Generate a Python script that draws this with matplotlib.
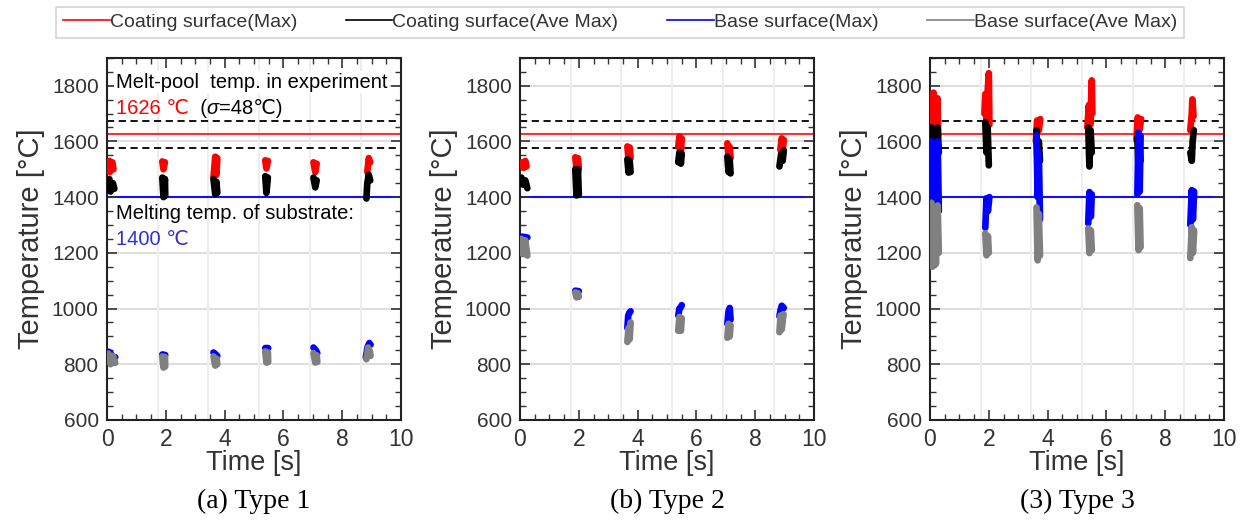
import numpy as np
import matplotlib.pyplot as plt
from matplotlib.lines import Line2D
from matplotlib.ticker import MultipleLocator

nan = np.nan

# ---- data: time [s] / temperature [C], NaN separates the six scan passes ----
# (a) Type 1
p1_coat_max_t = [0.08, 0.10, 0.18, 0.22, nan, 1.88, 1.92, 1.97, nan, 3.62, 3.68, 3.72, 3.75, nan,
                 5.38, 5.42, 5.47, nan, 7.02, 7.08, 7.13, nan, 8.85, 8.90, 8.95]
p1_coat_max_T = [1530, 1490, 1525, 1500, nan, 1528, 1500, 1525, nan, 1470, 1545, 1480, 1540, nan,
                 1532, 1503, 1530, nan, 1525, 1490, 1520, nan, 1490, 1540, 1525]
p1_coat_ave_t = [0.08, 0.12, 0.20, 0.25, nan, 1.88, 1.92, 1.97, 1.98, nan, 3.62, 3.68, 3.72, 3.75, nan,
                 5.38, 5.42, 5.47, nan, 7.02, 7.08, 7.13, nan, 8.82, 8.85, 8.90, 8.95]
p1_coat_ave_T = [1465, 1420, 1450, 1430, nan, 1470, 1400, 1465, 1405, nan, 1465, 1410, 1455, 1415, nan,
                 1475, 1415, 1470, nan, 1470, 1435, 1460, nan, 1395, 1450, 1480, 1460]
p1_base_max_t = [0.05, 0.12, 0.18, 0.28, nan, 1.88, 1.98, nan, 3.62, 3.70, 3.75, nan,
                 5.38, 5.48, nan, 7.02, 7.10, 7.15, nan, 8.80, 8.86, 8.92, 8.96]
p1_base_max_T = [845, 840, 826, 825, nan, 835, 833, nan, 842, 835, 830, nan,
                 858, 858, nan, 860, 850, 840, nan, 825, 862, 876, 870]
p1_base_ave_t = [0.05, 0.12, 0.20, 0.28, nan, 1.88, 1.92, 1.97, 1.98, nan, 3.62, 3.68, 3.73, 3.75, nan,
                 5.38, 5.42, 5.47, 5.48, nan, 7.02, 7.08, 7.13, 7.15, nan, 8.82, 8.88, 8.94, 8.96]
p1_base_ave_T = [838, 800, 830, 805, nan, 828, 788, 826, 792, nan, 828, 795, 820, 800, nan,
                 846, 806, 842, 808, nan, 840, 806, 832, 808, nan, 818, 860, 845, 830]

# (b) Type 2
p2_coat_max_t = [0.08, 0.12, 0.18, 0.22, nan, 1.88, 1.92, 1.97, 2.00, nan, 3.65, 3.69, 3.73, 3.76, nan,
                 5.38, 5.42, 5.47, 5.50, nan, 7.05, 7.09, 7.13, 7.16, nan, 8.85, 8.90, 8.94, 8.97]
p2_coat_max_T = [1525, 1505, 1530, 1510, nan, 1543, 1500, 1540, 1502, nan, 1582, 1536, 1578, 1540, nan,
                 1580, 1618, 1565, 1610, nan, 1593, 1545, 1580, 1540, nan, 1570, 1611, 1580, 1605]
p2_coat_ave_t = [0.05, 0.10, 0.18, 0.25, nan, 1.88, 1.92, 1.97, 2.00, nan, 3.65, 3.69, 3.73, 3.76, nan,
                 5.38, 5.42, 5.47, 5.50, nan, 7.05, 7.09, 7.13, 7.16, nan, 8.82, 8.88, 8.93, 8.97]
p2_coat_ave_T = [1470, 1445, 1460, 1432, nan, 1500, 1406, 1500, 1408, nan, 1536, 1488, 1530, 1490, nan,
                 1525, 1561, 1520, 1555, nan, 1545, 1490, 1535, 1485, nan, 1510, 1555, 1530, 1568]
p2_base_max_t = [0.05, 0.25, nan, 1.88, 2.00, nan, 3.65, 3.68, 3.72, 3.76, nan,
                 5.38, 5.42, 5.47, 5.50, nan, 7.05, 7.09, 7.13, 7.16, nan, 8.82, 8.86, 8.90, 8.97]
p2_base_max_T = [1258, 1255, nan, 1064, 1062, nan, 930, 975, 985, 990, nan,
                 975, 1000, 1005, 1012, nan, 945, 990, 1002, 960, nan, 972, 995, 1010, 1002]
p2_base_ave_t = [0.05, 0.10, 0.18, 0.25, nan, 1.88, 1.92, 1.97, 2.00, nan, 3.65, 3.69, 3.73, 3.76, nan,
                 5.38, 5.42, 5.47, 5.50, nan, 7.05, 7.09, 7.13, 7.16, nan, 8.82, 8.86, 8.90, 8.96]
p2_base_ave_T = [1250, 1195, 1245, 1190, nan, 1058, 1040, 1055, 1042, nan, 880, 930, 890, 950, nan,
                 920, 970, 920, 965, nan, 895, 945, 900, 940, nan, 915, 975, 925, 980]

# (3) Type 3
p3_coat_max_t = [0.05, 0.07, 0.12, 0.16, 0.25, 0.28, nan, 1.85, 1.88, 1.92, 1.96, 2.00, 2.02, nan,
                 3.60, 3.64, 3.70, 3.75, nan, 5.35, 5.40, 5.45, 5.50, 5.52, nan,
                 7.02, 7.06, 7.12, 7.18, nan, 8.85, 8.90, 8.92, 8.96]
p3_coat_max_T = [1745, 1620, 1775, 1600, 1755, 1620, nan, 1700, 1770, 1668, 1780, 1845, 1660, nan,
                 1600, 1675, 1640, 1680, nan, 1650, 1730, 1660, 1819, 1700, nan,
                 1604, 1686, 1640, 1680, nan, 1640, 1700, 1751, 1690]
p3_coat_ave_t = [0.05, 0.08, 0.14, 0.20, 0.26, 0.30, nan, 1.88, 1.92, 1.96, 2.00, nan,
                 3.62, 3.66, 3.70, 3.74, nan, 5.38, 5.42, 5.46, 5.50, nan,
                 7.05, 7.09, 7.13, 7.16, nan, 8.85, 8.90, 8.93, 8.97]
p3_coat_ave_T = [1650, 1540, 1630, 1520, 1650, 1560, nan, 1668, 1560, 1650, 1514, nan,
                 1640, 1503, 1600, 1530, nan, 1650, 1510, 1640, 1560, nan,
                 1614, 1500, 1590, 1530, nan, 1560, 1530, 1600, 1640]
p3_base_max_t = [0.05, 0.08, 0.14, 0.20, 0.26, 0.30, nan, 1.88, 1.92, 1.97, 2.02, nan,
                 3.62, 3.66, 3.70, 3.74, nan, 5.38, 5.42, 5.47, 5.50, nan,
                 7.05, 7.09, 7.13, 7.16, nan, 8.85, 8.90, 8.94, 8.98]
p3_base_max_T = [1600, 1390, 1560, 1380, 1600, 1350, nan, 1290, 1396, 1350, 1400, nan,
                 1622, 1400, 1560, 1320, nan, 1306, 1418, 1330, 1410, nan,
                 1410, 1632, 1420, 1620, nan, 1301, 1425, 1320, 1420]
p3_base_ave_t = [0.05, 0.08, 0.14, 0.20, 0.26, 0.30, nan, 1.88, 1.92, 1.97, 2.00, nan,
                 3.62, 3.66, 3.70, 3.74, nan, 5.38, 5.42, 5.47, 5.50, nan,
                 7.05, 7.09, 7.13, 7.16, nan, 8.85, 8.90, 8.94, 8.98]
p3_base_ave_T = [1380, 1150, 1360, 1160, 1370, 1200, nan, 1270, 1191, 1260, 1200, nan,
                 1363, 1173, 1340, 1190, nan, 1288, 1199, 1280, 1210, nan,
                 1371, 1210, 1360, 1220, nan, 1181, 1292, 1200, 1280]

melt_pool_T = 1626
melt_pool_sigma = 48
substrate_melt_T = 1400
pass_starts = [1.72, 3.45, 5.17, 6.9, 8.62]

captions = ["(a) Type 1", "(b) Type 2", "(3) Type 3"]
series_labels = ["Coating surface(Max)", "Coating surface(Ave Max)",
                 "Base surface(Max)", "Base surface(Ave Max)"]
series_colors = ["#ff0000", "black", "#0000ff", "#808080"]

panels = [
    [(p1_coat_max_t, p1_coat_max_T), (p1_coat_ave_t, p1_coat_ave_T),
     (p1_base_max_t, p1_base_max_T), (p1_base_ave_t, p1_base_ave_T)],
    [(p2_coat_max_t, p2_coat_max_T), (p2_coat_ave_t, p2_coat_ave_T),
     (p2_base_max_t, p2_base_max_T), (p2_base_ave_t, p2_base_ave_T)],
    [(p3_coat_max_t, p3_coat_max_T), (p3_coat_ave_t, p3_coat_ave_T),
     (p3_base_max_t, p3_base_max_T), (p3_base_ave_t, p3_base_ave_T)],
]

plt.rcParams['font.family'] = ['Liberation Sans', 'DejaVu Sans']

fig = plt.figure(figsize=(12.41, 5.21), dpi=100)
lefts = [107 / 1241, 520 / 1241, 930 / 1241]

for i, series in enumerate(panels):
    ax = fig.add_axes([lefts[i], 0.194, 0.237, 0.695])

    # light grid
    for y in [800, 1000, 1200, 1600, 1800]:
        ax.axhline(y, color='#d8d8d8', lw=1.2, zorder=0)
    for x in pass_starts:
        ax.axvline(x, color='#eeeeee', lw=1.5, zorder=0)

    # reference levels
    ax.axhline(melt_pool_T + melt_pool_sigma, color='black', lw=1.3, ls=(0, (4, 2.5)), zorder=1)
    ax.axhline(melt_pool_T - melt_pool_sigma, color='black', lw=1.3, ls=(0, (4, 2.5)), zorder=1)
    ax.axhline(melt_pool_T, color='#ff3030', lw=1.5, zorder=1)
    ax.axhline(substrate_melt_T, color='#1010ff', lw=1.5, zorder=1)

    for (t, T), c in zip(series, series_colors):
        ax.plot(t, T, color=c, lw=4.8, solid_capstyle='round', solid_joinstyle='round', zorder=3)

    ax.set_xlim(0, 10)
    ax.set_ylim(600, 1900)
    ax.xaxis.set_major_locator(MultipleLocator(2))
    ax.xaxis.set_minor_locator(MultipleLocator(0.5))
    ax.yaxis.set_minor_locator(MultipleLocator(50))
    ax.set_yticks([600, 800, 1000, 1200, 1400, 1600, 1800])
    ax.tick_params(which='both', direction='in', top=True, right=True,
                   colors='#333333', labelcolor='#333333')
    ax.tick_params(axis='y', labelsize=15)
    ax.tick_params(axis='x', labelsize=16.5)
    ax.tick_params(which='major', length=7, width=1.2, pad=6)
    ax.tick_params(which='minor', length=4, width=1.0)
    for s in ax.spines.values():
        s.set_linewidth(1.5)
        s.set_color('#222222')

    ax.set_xlabel("Time [s]", fontsize=19.5, color='#333333', labelpad=-1)
    ax.set_ylabel("Temperature [°C]", fontsize=21, color='#333333', labelpad=5)
    ax.text(0.5, -0.19, captions[i], transform=ax.transAxes, ha='center', va='top',
            fontsize=20, family='Liberation Serif')

    if i == 0:
        bb = dict(facecolor='white', edgecolor='none', pad=1)
        ax.text(0.3, 1812, "Melt-pool  temp. in experiment", fontsize=14.5, va='center',
                bbox=bb, zorder=4)
        t1 = ax.text(0.3, 1718, "1626 ℃", fontsize=14.5, va='center', color='#ff0000', zorder=4)
        t2 = ax.annotate("  (", xy=(1, 0), xycoords=t1, va='bottom', fontsize=14.5, zorder=4)
        t3 = ax.annotate("σ", xy=(1, 0), xycoords=t2, va='bottom', fontsize=14.5,
                         style='italic', zorder=4)
        ax.annotate("=48℃)", xy=(1, 0), xycoords=t3, va='bottom', fontsize=14.5, zorder=4)
        ax.text(0.3, 1342, "Melting temp. of substrate:", fontsize=14.5, va='center', zorder=4)
        ax.text(0.3, 1247, "1400 ℃", fontsize=14.5, va='center', color='#3030d0', zorder=4)

handles = [Line2D([0], [0], color=c, lw=1.2) for c in series_colors]
leg = fig.legend(handles, series_labels, loc='center', bbox_to_anchor=(0.4995, 0.957),
                 ncol=4, fontsize=14, handlelength=2.4, handletextpad=0.0,
                 columnspacing=2.5, frameon=True, fancybox=False, borderpad=0.35)
leg.get_frame().set_edgecolor('#c8c8c8')
leg.get_frame().set_linewidth(1.2)
for txt in leg.get_texts():
    txt.set_color('#333333')

fig.savefig("out.png", dpi=100)
